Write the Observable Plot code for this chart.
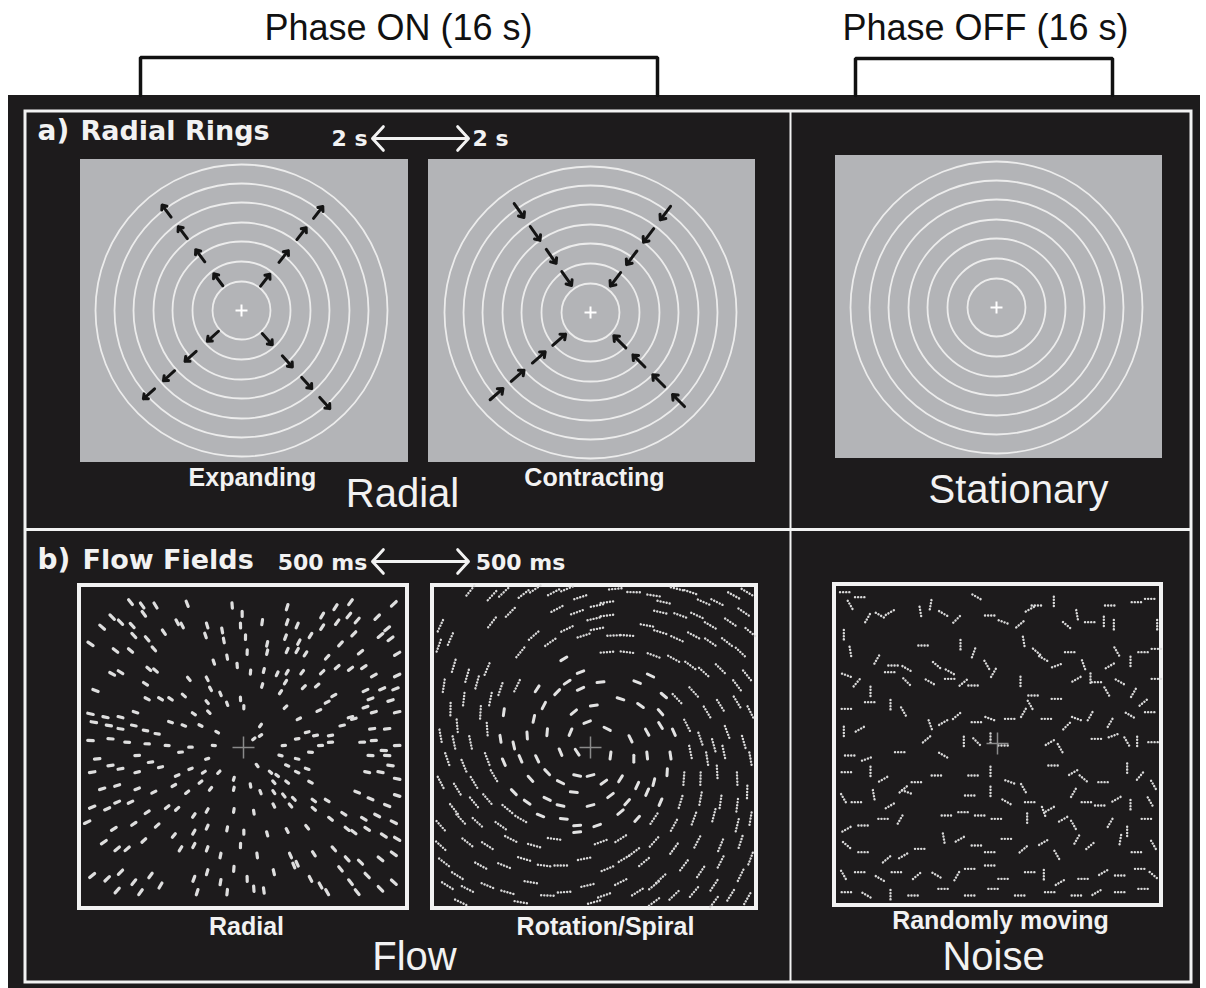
<!DOCTYPE html>
<html><head><meta charset="utf-8">
<script src="https://cdn.jsdelivr.net/npm/d3@7"></script>
<script src="https://cdn.jsdelivr.net/npm/@observablehq/plot@0.6"></script>
<style>html,body{margin:0;padding:0;background:#fff;} #chart svg{display:block}</style>
</head><body><div id="chart"></div>
<script>
// ---------------- texts ----------------
const phaseLabels = ["Phase ON (16 s)", "Phase OFF (16 s)"];
const panelLetters = ["a)", "b)"];
const panelTitles = ["Radial Rings", "Flow Fields"];
const ringDurations = ["2 s", "2 s"];
const flowDurations = ["500 ms", "500 ms"];
const ringStimulusLabels = ["Expanding", "Contracting"];
const flowStimulusLabels = ["Radial", "Rotation/Spiral", "Randomly moving"];
const conditionLabels = ["Radial", "Stationary", "Flow", "Noise"];

// ---------------- ring stimuli (radii in px) ----------------
const ringRadii = [29, 49, 69, 88, 108, 127, 146];
const expandingArrowAngles = [127, 52, 222, 312];
const contractingArrowAngles = [125, 53, 221, 315];
const expandingArrowRadii = [46, 76, 105, 132];
const contractingArrowRadii = [33, 60, 88, 116];

// ---------------- flow-field dots (field units = 1/3 px from field origin) ----------------
const radialFlowDots = [
[330,230],[365,240],[405,240],[500,235],[635,240],[665,265],[800,245],[905,270],[945,245],[990,230],[985,270],[1120,235],[1070,275],
[275,275],[300,290],[245,305],[335,300],[370,265],[470,290],[485,300],[560,300],[605,315],[660,300],[725,290],[800,290],[830,300],[905,305],[950,290],[1010,285],[1100,310],[1080,330],
[210,355],[340,330],[380,340],[430,320],[555,330],[610,345],[675,335],[740,355],[795,335],[835,350],[870,330],[960,355],[1000,325],[1110,340],
[285,375],[330,375],[400,370],[680,380],[740,380],[800,375],[830,375],[855,385],[920,395],[1020,380],[1130,385],[580,410],[620,395],[650,420],
[275,445],[300,440],[405,435],[385,430],[560,460],[505,460],[690,440],[730,435],[770,445],[800,440],[845,440],[905,440],[950,425],[990,430],[1030,425],[1060,450],[1130,450],
[225,495],[375,475],[450,520],[490,510],[570,490],[600,505],[725,480],[795,470],[850,485],[890,480],[940,510],[1035,495],[1085,490],[1125,490],[780,500],
[380,520],[420,520],[560,530],[620,535],[660,520],[670,545],[795,545],[920,530],[1050,520],[1035,545],[1110,525],[210,565],[255,575],[300,575],[345,560],[520,565],[565,560],[895,555],[990,575],[1060,560],[1130,560],
[220,590],[265,600],[300,610],[340,600],[375,615],[410,625],[450,590],[490,600],[540,600],[590,620],[720,600],[835,580],[860,620],[885,630],[930,630],[965,600],[1000,580],[1055,610],[1100,610],
[210,645],[270,640],[320,650],[380,655],[440,660],[510,665],[580,660],[700,640],[720,630],[790,660],[830,640],[870,680],[900,660],[930,650],[1025,650],[1060,645],[1090,675],[1130,660],[230,700],[350,690],[480,680],[560,700],[780,690],[830,700],[1050,690],[1100,690],
[215,740],[270,720],[300,730],[350,740],[390,710],[420,725],[470,750],[510,730],[550,740],[595,740],[640,760],[710,720],[750,740],[770,750],[800,720],[830,740],[860,730],[1040,740],[1080,740],[1110,720],[1130,760],[690,780],[760,770],[800,770],[870,770],
[245,790],[290,780],[350,790],[400,800],[460,780],[500,800],[540,770],[570,790],[640,790],[720,800],[760,800],[790,810],[820,820],[880,825],[920,825],[1010,800],[1050,820],[1100,840],[1130,810],
[215,845],[260,850],[290,830],[330,830],[380,860],[440,845],[470,850],[520,870],[560,855],[640,855],[700,860],[760,840],[810,840],[880,850],[930,880],[970,865],[1030,880],[1070,870],[1120,890],
[200,890],[280,910],[340,895],[410,900],[460,930],[520,920],[560,905],[620,910],[670,920],[740,925],[800,915],[860,905],[980,910],[1000,920],[1040,910],[1090,930],[1130,940],
[250,950],[290,970],[320,970],[370,945],[480,970],[520,960],[560,970],[600,990],[660,960],[710,990],[810,990],[830,1015],[880,985],[940,970],[980,1000],[1020,1010],[1080,1000],[1120,985],
[215,1050],[260,1060],[300,1040],[340,1070],[390,1050],[420,1080],[520,1060],[560,1040],[600,1070],[640,1030],[680,1060],[700,1090],[760,1040],[820,1020],[870,1060],[900,1080],[960,1030],[990,1070],[1010,1100],[1040,1050],[1080,1090],[1120,1070],[290,1095],[360,1100],[530,1100],[620,1100],[730,1095],[920,1100]
];
const rotationFlowDots = [
[150,195],[215,210],[250,200],[310,205],[345,190],[400,200],[440,190],[480,215],[530,240],[560,230],[585,190],[640,200],[700,210],[730,230],[770,190],[810,200],[850,230],[890,230],[940,210],[980,200],[215,290],[270,260],[410,250],[470,260],[520,280],[560,270],[720,260],[780,270],[830,270],[870,300],[930,290],[970,260],[990,320],
[60,300],[90,340],[55,360],[300,380],[340,330],[390,350],[440,310],[490,330],[530,310],[580,330],[620,330],[680,300],[720,320],[770,340],[820,330],[870,350],[920,350],[960,380],[980,450],[100,420],[140,450],[200,430],[430,400],[480,440],[560,380],[620,380],[700,390],[760,400],[810,420],[850,440],[900,430],[950,480],
[70,480],[90,550],[130,520],[170,470],[210,520],[240,490],[290,480],[350,490],[410,500],[440,470],[480,490],[540,470],[600,520],[650,470],[690,450],[730,510],[770,520],[820,500],[860,560],[900,540],[950,530],[990,560],[370,540],[250,560],[180,560],[110,600],[460,560],[520,540],[660,540],[720,560],
[60,630],[100,650],[150,650],[200,610],[240,640],[280,660],[320,630],[340,580],[380,620],[450,620],[500,590],[560,610],[630,640],[680,620],[720,600],[760,620],[800,600],[840,640],[880,660],[920,620],[970,650],[990,700],[80,700],[130,720],[200,700],[250,710],[300,700],[350,700],[420,680],[470,680],[570,690],[640,700],[680,690],[750,690],[810,680],[860,700],[910,680],
[60,770],[110,790],[160,770],[220,750],[280,800],[330,760],[380,740],[420,770],[470,750],[510,750],[550,770],[600,760],[650,780],[700,770],[740,740],[790,760],[840,760],[890,740],[950,760],[980,800],[100,850],[160,830],[200,820],[260,850],[320,830],[380,820],[420,840],[460,800],[510,840],[570,810],[620,830],[680,800],[720,830],[780,830],[840,820],[900,830],[950,840],
[60,900],[120,880],[170,890],[240,900],[300,880],[360,870],[430,880],[470,900],[530,900],[600,860],[650,880],[700,880],[760,900],[820,880],[880,870],[950,900],[990,880],[60,960],[140,950],[200,960],[270,940],[340,960],[400,940],[470,920],[540,950],[600,940],[640,980],[700,950],[760,970],[830,950],[900,960],[960,950],
[70,1010],[110,1050],[180,1020],[250,1020],[310,1000],[370,1020],[420,1020],[490,1000],[560,1030],[610,1000],[670,1010],[720,1060],[790,1020],[840,1040],[900,1010],[960,1050],[990,1000],[80,1080],[140,1090],[200,1080],[260,1100],[330,1070],[380,1110],[430,1100],[500,1080],[550,1110],[600,1070],[650,1100],[700,1080],[760,1110],[820,1100],[880,1080],[930,1110],[980,1120],[120,1130],[300,1130],[520,1130],[700,1130],[880,1130]
];
// [x, y, direction in degrees]
const noiseFlowDots = [
[165,200,0],[210,215,0],[180,240,60],[230,280,120],[270,270,30],[300,260,-30],[390,260,80],[420,240,100],[460,265,30],[500,280,-45],[560,215,30],[600,270,0],[640,290,20],[690,295,-40],[720,250,-30],[740,240,0],[790,230,90],[830,300,40],[860,270,80],[900,290,0],[940,290,90],[970,300,90],[960,240,0],[1040,230,0],[1080,220,0],[1100,300,90],
[160,330,90],[180,380,80],[260,400,-60],[310,420,0],[350,430,30],[400,360,0],[440,420,40],[480,440,30],[510,360,90],[550,380,-70],[590,420,60],[610,440,-60],[700,350,80],[740,380,40],[760,400,30],[800,420,-20],[840,380,0],[880,420,70],[900,460,90],[960,420,-30],[980,380,60],[1020,410,90],[1060,380,0],[1100,370,0],
[170,450,20],[200,470,-50],[240,500,90],[300,440,0],[350,470,45],[420,470,30],[480,460,0],[520,470,-40],[550,480,0],[690,470,90],[730,510,0],[800,520,0],[860,460,-30],[920,470,0],[950,500,60],[990,470,30],[1030,500,-60],[1060,530,-40],[1100,460,0],
[170,550,0],[240,530,0],[300,540,90],[340,560,60],[420,600,70],[460,590,-30],[500,570,-40],[560,590,0],[600,580,20],[660,580,0],[700,560,-60],[720,540,60],[770,580,0],[830,600,-45],[860,580,20],[900,570,-60],[960,590,-60],[1020,570,30],[1080,560,0],
[160,620,90],[210,610,-30],[180,690,0],[230,700,-20],[330,680,0],[410,640,-40],[460,690,30],[520,650,90],[560,650,45],[600,640,90],[640,660,0],[780,650,-30],[810,670,60],[920,640,0],[970,630,-20],[1010,650,60],[1040,650,90],[1090,650,0],
[170,740,0],[240,740,90],[280,760,-30],[340,790,-40],[380,770,0],[440,750,0],[550,750,0],[600,740,90],[660,770,20],[700,790,60],[790,720,0],[850,740,-30],[880,760,40],[940,770,0],[1010,730,90],[1050,750,-50],[1090,780,60],
[160,820,60],[200,830,0],[250,810,80],[300,840,-30],[350,800,20],[540,810,0],[600,800,90],[650,830,30],[720,830,0],[780,850,-30],[850,800,-60],[890,830,0],[930,840,0],[980,820,-30],[1020,840,90],[1080,830,60],
[170,910,-30],[220,900,0],[280,880,0],[330,880,-60],[470,870,0],[520,860,0],[570,870,0],[620,880,0],[710,880,90],[760,860,70],[820,880,-30],[850,900,60],[960,890,-60],[1010,920,90],[1070,880,0],
[170,960,40],[220,980,0],[290,1000,-40],[340,990,-30],[390,970,0],[460,940,80],[510,940,-30],[560,960,0],[600,980,0],[650,940,0],[700,970,-40],[760,950,-30],[800,990,60],[860,940,-60],[900,960,-40],[990,940,-80],[1040,980,0],[1090,960,60],
[160,1050,60],[210,1040,0],[270,1060,30],[320,1040,0],[380,1050,-40],[440,1050,30],[500,1050,-60],[540,1030,0],[600,1020,0],[640,1060,0],[720,1040,0],[760,1050,90],[810,1070,-30],[880,1060,0],[940,1040,-30],[990,1050,0],[1050,1030,0],[1090,1050,40],
[170,1100,0],[230,1110,30],[300,1110,90],[370,1110,0],[460,1090,0],[540,1110,0],[610,1090,0],[690,1110,0],[780,1100,0],[860,1110,0],[920,1100,-30],[990,1100,0],[1060,1090,0]
];

// ---------------- layout (px) ----------------
const L = {
  W: 1206, H: 988,
  black: {x1: 8, x2: 1200, y1: 95, y2: 988},
  frame: {x1: 25, x2: 1191, y1: 111, y2: 982},
  divX: 790, divY: 529,
  brackets: [{x1: 140, x2: 657, top: 57}, {x1: 855, x2: 1112, top: 58}],
  phasePos: [[398, 28], [985, 28]],
  gray: [
    {x1: 80, x2: 408, y1: 159, y2: 462, cx: 241, cy: 310},
    {x1: 428, x2: 755, y1: 159, y2: 462, cx: 590, cy: 312},
    {x1: 835, x2: 1162, y1: 155, y2: 458, cx: 996, cy: 307}
  ],
  flow: [
    {x1: 79, x2: 407, y1: 585, y2: 908, cx: 243, cy: 747, ox: 20, oy: 525},
    {x1: 432, x2: 756, y1: 585, y2: 908, cx: 590, cy: 747, ox: 420, oy: 525},
    {x1: 834, x2: 1161, y1: 584, y2: 905, cx: 997, cy: 743, ox: 790, oy: 525}
  ]
};

const WHITE = "#f2f2f2", BG = "#1d1b1c", GRAY = "#b3b4b7";

// brackets
const bracketPts = L.brackets.flatMap((b, i) => [
  {i, x: b.x1, y: L.black.y1}, {i, x: b.x1, y: b.top}, {i, x: b.x2, y: b.top}, {i, x: b.x2, y: L.black.y1}
]);

// rings
const rings = L.gray.flatMap(s => ringRadii.map(r => ({x: s.cx, y: s.cy, r})));

// arrows
function radialArrows(sq, angles, radii, len) {
  return angles.flatMap(a => radii.map(r => {
    const t = a * Math.PI / 180, c = Math.cos(t), s = -Math.sin(t), rt = r - len;
    return {x1: sq.cx + c * rt, y1: sq.cy + s * rt, x2: sq.cx + c * r, y2: sq.cy + s * r};
  }));
}
const arrows = [
  ...radialArrows(L.gray[0], expandingArrowAngles, expandingArrowRadii, 15),
  ...radialArrows(L.gray[1], contractingArrowAngles, contractingArrowRadii, -17)
];

// crosses
function cross(cx, cy, h) { return [{x1: cx - h, x2: cx + h, y1: cy, y2: cy}, {x1: cx, x2: cx, y1: cy - h, y2: cy + h}]; }
const ringCrosses = L.gray.flatMap(s => cross(s.cx, s.cy, 6));
const flowCrosses = L.flow.flatMap(s => cross(s.cx, s.cy, 11));

// flow dashes
function seg(x, y, ang, len) {
  const c = Math.cos(ang) * len / 2, s = Math.sin(ang) * len / 2;
  return {x1: x - c, y1: y - s, x2: x + c, y2: y + s};
}
const fR = L.flow[0], fT = L.flow[1], fN = L.flow[2];
const radialSegs = radialFlowDots.map(([u, v]) => {
  const x = fR.ox + u / 3, y = fR.oy + v / 3;
  const d = Math.hypot(x - fR.cx, y - fR.cy);
  return seg(x, y, Math.atan2(y - fR.cy, x - fR.cx), 2.5 + d * 0.02);
});
const rotationSegs = rotationFlowDots.map(([u, v]) => {
  const x = fT.ox + u / 3, y = fT.oy + v / 3;
  const d = Math.hypot(x - fT.cx, y - fT.cy);
  const s = seg(x, y, Math.atan2(y - fT.cy, x - fT.cx) + Math.PI / 2 - 0.25, d < 95 ? 7 : 13);
  s.outer = d >= 95;
  return s;
});
const noiseSegs = noiseFlowDots.map(([u, v, a]) => seg(fN.ox + u / 3, fN.oy + v / 3, a * Math.PI / 180, 11));

// timing arrows
const timing = [{y: 138, xm: 420, xl: 372, xr: 468}, {y: 561, xm: 420, xl: 372, xr: 468}];
const timingArrows = timing.flatMap(t => [{x1: t.xm, x2: t.xl, y: t.y}, {x1: t.xm, x2: t.xr, y: t.y}]);

const T = (text, x, y, o) => ({text, x, y, ...o});
const texts = {
  phase: [T(phaseLabels[0], ...L.phasePos[0]), T(phaseLabels[1], ...L.phasePos[1])],
  letters: [T(panelLetters[0], 37, 131), T(panelLetters[1], 37, 560)],
  titles: [T(panelTitles[0], 80, 131), T(panelTitles[1], 82, 560)],
  durations: [T(ringDurations[0], 349, 138), T(ringDurations[1], 490, 138), T(flowDurations[0], 322, 562), T(flowDurations[1], 520, 562)],
  stim: [T(ringStimulusLabels[0], 252, 477), T(ringStimulusLabels[1], 594, 477),
         T(flowStimulusLabels[0], 246, 926), T(flowStimulusLabels[1], 605, 926), T(flowStimulusLabels[2], 1000, 920)],
  cond: [T(conditionLabels[0], 402, 494), T(conditionLabels[1], 1018, 490), T(conditionLabels[2], 414, 957), T(conditionLabels[3], 993, 957)]
};

const plot = Plot.plot({
  width: L.W, height: L.H, margin: 0,
  x: {domain: [0, L.W], range: [0, L.W], axis: null},
  y: {domain: [0, L.H], range: [0, L.H], axis: null},
  r: {type: "identity"},
  style: {background: "#fff"},
  marks: [
    Plot.rect([L.black], {x1: "x1", x2: "x2", y1: "y1", y2: "y2", fill: BG}),
    Plot.line(bracketPts, {x: "x", y: "y", z: "i", stroke: "#111", strokeWidth: 3.5, strokeLinejoin: "miter"}),
    Plot.rect([L.frame], {x1: "x1", x2: "x2", y1: "y1", y2: "y2", fill: "none", stroke: WHITE, strokeWidth: 3}),
    Plot.ruleX([L.divX], {y1: L.frame.y1, y2: L.frame.y2, stroke: WHITE, strokeWidth: 2}),
    Plot.ruleY([L.divY], {x1: L.frame.x1, x2: L.frame.x2, stroke: WHITE, strokeWidth: 3}),
    // ring stimuli
    Plot.rect(L.gray, {x1: "x1", x2: "x2", y1: "y1", y2: "y2", fill: GRAY}),
    Plot.dot(rings, {x: "x", y: "y", r: "r", stroke: "#ececec", strokeWidth: 1.8, fill: "none"}),
    Plot.arrow(arrows, {x1: "x1", y1: "y1", x2: "x2", y2: "y2", stroke: "#141414", strokeWidth: 3, headLength: 8, headAngle: 80}),
    Plot.link(ringCrosses, {x1: "x1", x2: "x2", y1: "y1", y2: "y2", stroke: "#ffffff", strokeWidth: 2}),
    // flow fields
    Plot.rect(L.flow, {x1: "x1", x2: "x2", y1: "y1", y2: "y2", fill: "none", stroke: WHITE, strokeWidth: 4}),
    Plot.link(radialSegs, {x1: "x1", x2: "x2", y1: "y1", y2: "y2", stroke: "#dedede", strokeWidth: 3.2, strokeLinecap: "round"}),
    Plot.link(rotationSegs.filter(d => !d.outer), {x1: "x1", x2: "x2", y1: "y1", y2: "y2", stroke: "#e2e2e2", strokeWidth: 3, strokeLinecap: "round"}),
    Plot.link(rotationSegs.filter(d => d.outer), {x1: "x1", x2: "x2", y1: "y1", y2: "y2", stroke: "#dadada", strokeWidth: 2.4, strokeLinecap: "round", strokeDasharray: "0.1 3"}),
    Plot.link(noiseSegs, {x1: "x1", x2: "x2", y1: "y1", y2: "y2", stroke: "#dadada", strokeWidth: 2.4, strokeLinecap: "round", strokeDasharray: "0.1 3"}),
    Plot.link(flowCrosses, {x1: "x1", x2: "x2", y1: "y1", y2: "y2", stroke: "#8a8a8a", strokeWidth: 1.5}),
    // timing arrows
    Plot.arrow(timingArrows, {x1: "x1", x2: "x2", y1: "y", y2: "y", stroke: WHITE, strokeWidth: 3, headLength: 14, headAngle: 95}),
    // texts
    Plot.text(texts.phase, {x: "x", y: "y", text: "text", fill: "#111", fontSize: 36, fontFamily: "Liberation Sans, Arial, sans-serif", textAnchor: "middle"}),
    Plot.text(texts.letters, {x: "x", y: "y", text: "text", fill: WHITE, fontSize: 28, fontWeight: "bold", fontFamily: "DejaVu Sans, sans-serif", textAnchor: "start"}),
    Plot.text(texts.titles, {x: "x", y: "y", text: "text", fill: WHITE, fontSize: 27, fontWeight: "bold", fontFamily: "DejaVu Sans, sans-serif", textAnchor: "start"}),
    Plot.text(texts.durations, {x: "x", y: "y", text: "text", fill: WHITE, fontSize: 22, fontWeight: "bold", fontFamily: "DejaVu Sans, sans-serif", textAnchor: "middle"}),
    Plot.text(texts.stim, {x: "x", y: "y", text: "text", fill: WHITE, fontSize: 25, fontWeight: "bold", fontFamily: "Liberation Sans, Arial, sans-serif", textAnchor: "middle"}),
    Plot.text(texts.cond, {x: "x", y: "y", text: "text", fill: WHITE, fontSize: 40, fontFamily: "Liberation Sans, Arial, sans-serif", textAnchor: "middle"})
  ]
});
document.getElementById("chart").appendChild(plot);
</script></body></html>
